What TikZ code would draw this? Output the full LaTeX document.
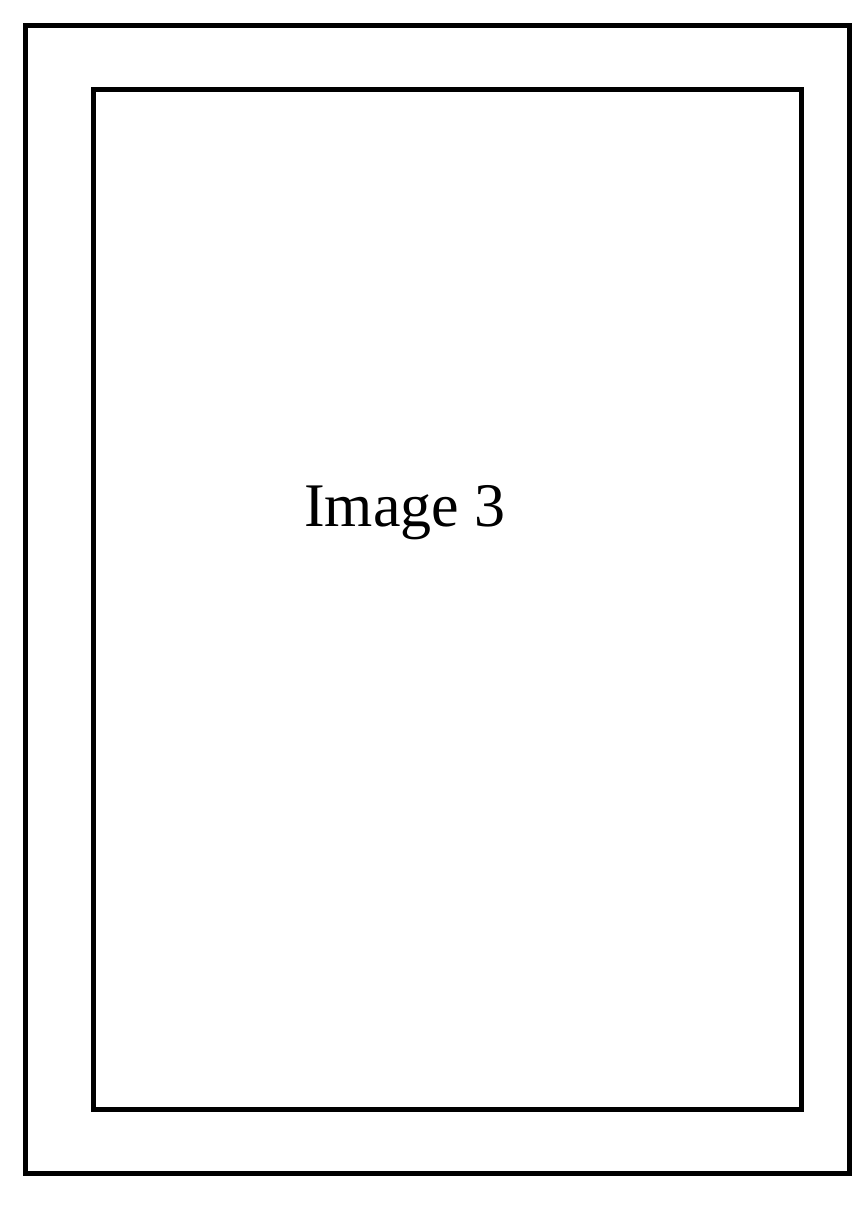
\documentclass[tikz,border=0pt]{standalone}
\usepackage{fontspec}
\setmainfont{Liberation Serif}
\usetikzlibrary{positioning}

\begin{document}
\begin{tikzpicture}
        [
            x=1pt,y=-1pt,
            frame/.style={draw=black,line width=5pt},
            caption/.style={font=\fontsize{62}{68}\selectfont,inner sep=0pt,anchor=base},
        ]
    \useasboundingbox (0,0) rectangle (866,1206);
    \draw[frame] (25.5,25.5) rectangle (849.5,1173);
    \draw[frame] (93.5,89.5) rectangle (801.5,1109);
    \node[caption] (title) at (405,526.7){Image 3};
    \end{tikzpicture}
\end{document}
